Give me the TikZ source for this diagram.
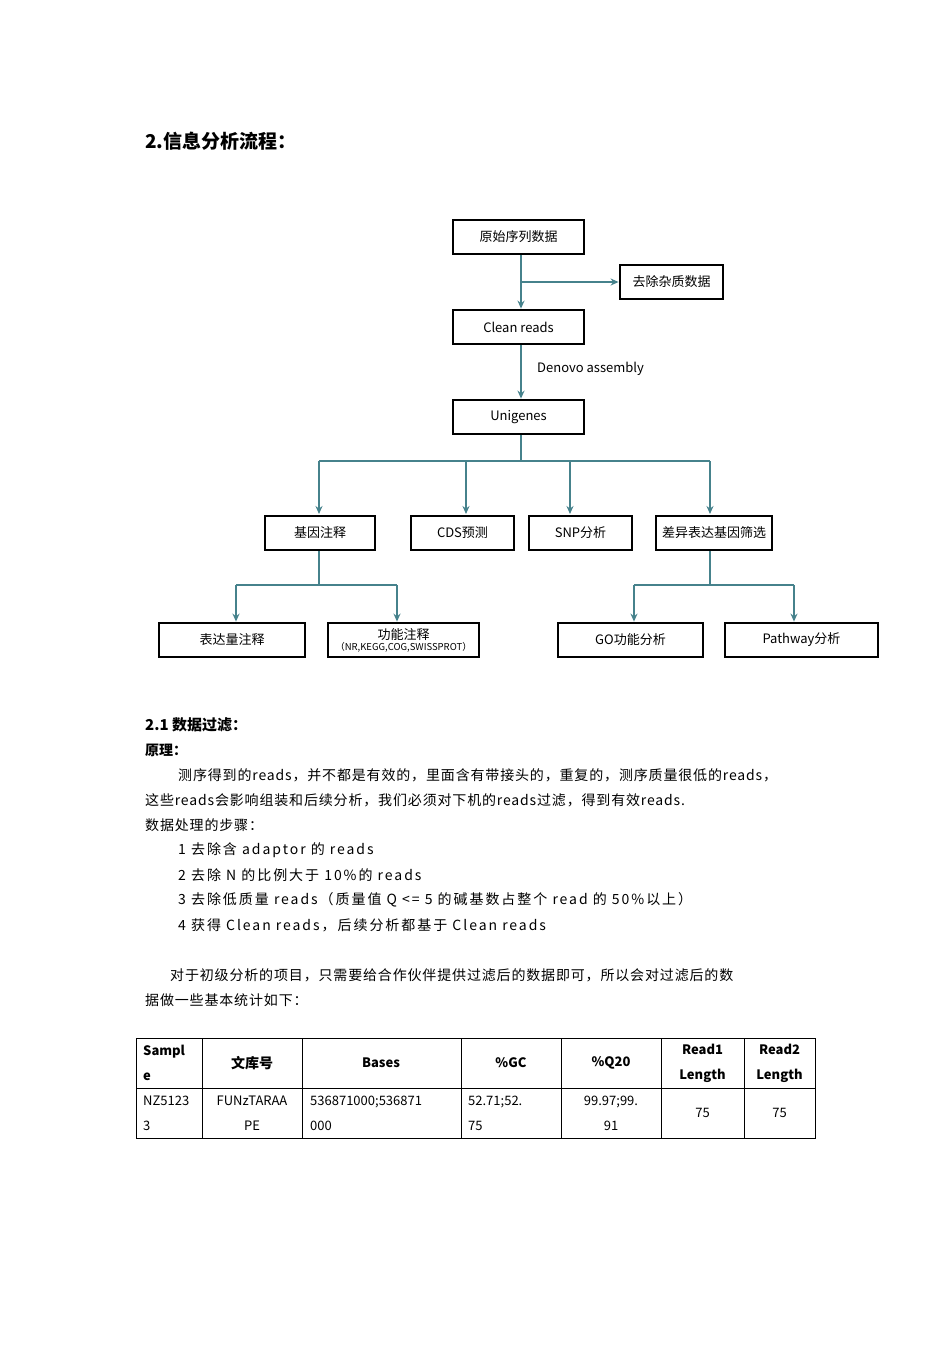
\documentclass[tikz,border=0pt]{standalone}
\usepackage{fontspec}
\setmainfont{Noto Sans CJK SC}
\newfontfamily\flowfont{Noto Sans CJK SC}
\newfontfamily\widefont[LetterSpace=6]{Noto Sans CJK SC}
\newfontfamily\widerfont[LetterSpace=14]{Noto Sans CJK SC}
\usetikzlibrary{arrows.meta}
\definecolor{teal1}{RGB}{70,130,140}
\tikzset{
 fbox/.style={draw=black,line width=2.8pt,fill=white,minimum height=34pt,inner sep=0pt,font=\fontsize{13}{14}\selectfont\flowfont},
 conn/.style={draw=teal1,line width=1.3pt},
 arr/.style={conn,-{Stealth[length=8pt,width=7pt,open]}},
 txt/.style={anchor=west,inner sep=0pt,font=\fontsize{14}{15}\selectfont\widefont},
 mtxt/.style={anchor=west,inner sep=0pt,font=\fontsize{14}{15}\selectfont\widerfont},
 cell/.style={inner sep=0pt,font=\fontsize{13}{15}\selectfont,align=center},
}
\begin{document}
\begin{tikzpicture}[x=1pt,y=-1pt]
\useasboundingbox[fill=white] (0,0) rectangle (950,1345);
\node[anchor=west,inner sep=0pt,font=\fontsize{19}{20}\selectfont\bfseries] (title) at (145,141) {2.信息分析流程：};
% flowchart
\node[fbox,minimum width=131pt] (raw) at (518.5,237) {原始序列数据};
\node[fbox,minimum width=103pt] (imp) at (671.5,282) {去除杂质数据};
\node[fbox,minimum width=131pt] (clean) at (518.5,327) {Clean reads};
\node[fbox,minimum width=131pt] (uni) at (518.5,417) {Unigenes};
\node[anchor=west,inner sep=0pt,font=\fontsize{13}{14}\selectfont\flowfont] (den) at (537,369) {Denovo assembly};
\node[fbox,minimum width=110pt] (ann) at (320,533) {基因注释};
\node[fbox,minimum width=103pt] (cds) at (462.5,533) {CDS预测};
\node[fbox,minimum width=103pt] (snp) at (580.5,533) {SNP分析};
\node[fbox,minimum width=116pt] (deg) at (714,533) {差异表达基因筛选};
\node[fbox,minimum width=146pt] (expr) at (232,640) {表达量注释};
\node[fbox,minimum width=151pt,align=center] (func) at (403.5,640) {功能注释\\[-3pt]{\fontsize{9.5}{10}\selectfont（NR,KEGG,COG,SWISSPROT）}};
\node[fbox,minimum width=145pt] (go) at (630.5,640) {GO功能分析};
\node[fbox,minimum width=153pt] (path) at (801.5,640) {Pathway分析};
\coordinate (j1) at (521,282);
\draw[arr] (raw.south -| j1) -- (clean.north -| j1);
\draw[arr] (j1) -- (imp.west);
\draw[arr] (clean.south -| j1) -- (uni.north -| j1);
\coordinate (b1) at (521,461);
\draw[conn] (uni.south -| b1) -- (b1);
\draw[conn] (319,461) -- (710,461);
\draw[arr] (319,461) -- (319,514);
\draw[arr] (466,461) -- (466,514);
\draw[arr] (570,461) -- (570,514);
\draw[arr] (710,461) -- (710,514);
\draw[conn] (ann.south -| 319,0) -- (319,585);
\draw[conn] (236,585) -- (397,585);
\draw[arr] (236,585) -- (expr.north -| 236,0);
\draw[arr] (397,585) -- (func.north -| 397,0);
\draw[conn] (deg.south -| 710,0) -- (710,585);
\draw[conn] (634,585) -- (794,585);
\draw[arr] (634,585) -- (go.north -| 634,0);
\draw[arr] (794,585) -- (path.north -| 794,0);
% text
\node[anchor=west,inner sep=0pt,font=\fontsize{15}{16}\selectfont\bfseries] (h21) at (145,725) {2.1 数据过滤：};
\node[anchor=west,inner sep=0pt,font=\fontsize{14}{15}\selectfont\bfseries] (yl) at (145,750) {原理：};
\node[txt] (l1) at (178,775) {测序得到的reads，并不都是有效的，里面含有带接头的，重复的，测序质量很低的reads，};
\node[txt] (l2) at (145,800) {这些reads会影响组装和后续分析，我们必须对下机的reads过滤，得到有效reads.};
\node[txt] (l3) at (145,825) {数据处理的步骤：};
\node[mtxt] (l4) at (178,850) {1 去除含 adaptor 的 reads};
\node[mtxt] (l5) at (178,875) {2 去除 N 的比例大于 10\%的 reads};
\node[mtxt] (l6) at (178,900) {3 去除低质量 reads（质量值 Q <= 5 的碱基数占整个 read 的 50\%以上）};
\node[mtxt] (l7) at (178,925) {4 获得 Clean reads，后续分析都基于 Clean reads};
\node[txt] (l8) at (170,975) {对于初级分析的项目，只需要给合作伙伴提供过滤后的数据即可，所以会对过滤后的数};
\node[txt] (l9) at (145,1000) {据做一些基本统计如下：};
% table
\draw[line width=0.8pt] (136,1038) rectangle (815,1138);
\draw[line width=0.8pt] (136,1088) -- (815,1088);
\foreach \x in {202,302,461,561,661,744} \draw[line width=0.8pt] (\x,1038) -- (\x,1138);
\node[cell,anchor=west,font=\fontsize{13}{25}\selectfont\bfseries,align=left] (h1) at (143,1063) {Sampl\\e};
\node[cell,font=\fontsize{14}{15}\selectfont\bfseries] (h2) at (252,1063) {文库号};
\node[cell,font=\fontsize{13}{15}\selectfont\bfseries] (h3) at (381,1063) {Bases};
\node[cell,font=\fontsize{13}{15}\selectfont\bfseries] (h4) at (511,1063) {\%GC};
\node[cell,font=\fontsize{13}{15}\selectfont\bfseries] (h5) at (611,1063) {\%Q20};
\node[cell,font=\fontsize{13}{25}\selectfont\bfseries] (h6) at (702.5,1063) {Read1\\Length};
\node[cell,font=\fontsize{13}{25}\selectfont\bfseries] (h7) at (779.5,1063) {Read2\\Length};
\node[cell,anchor=west,align=left,font=\fontsize{13}{25}\selectfont] (d1) at (143,1113) {NZ5123\\3};
\node[cell,font=\fontsize{13}{25}\selectfont] (d2) at (252,1113) {FUNzTARAA\\PE};
\node[cell,anchor=west,align=left,font=\fontsize{13}{25}\selectfont] (d3) at (310,1113) {536871000;536871\\000};
\node[cell,anchor=west,align=left,font=\fontsize{13}{25}\selectfont] (d4) at (468,1113) {52.71;52.\\75};
\node[cell,font=\fontsize{13}{25}\selectfont] (d5) at (611,1113) {99.97;99.\\91};
\node[cell] (d6) at (702.5,1113) {75};
\node[cell] (d7) at (779.5,1113) {75};
\end{tikzpicture}
\end{document}
